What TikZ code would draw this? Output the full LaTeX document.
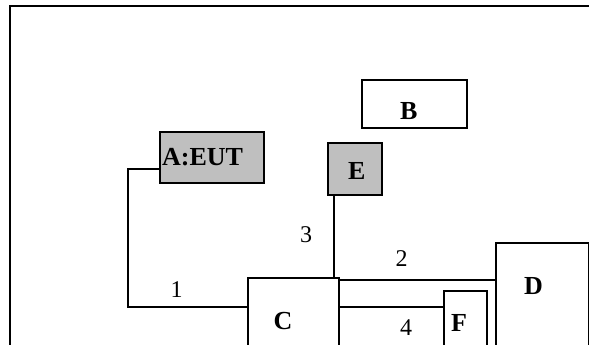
\documentclass[tikz,border=0pt]{standalone}
\usepackage{fontspec}
\setmainfont{Liberation Serif}
\usepackage{tikz}

\begin{document}
\begin{tikzpicture}[x=1pt,y=-1pt,
	box/.style={draw=black,line width=1.6pt,inner sep=0pt,anchor=north west},
	grey/.style={fill=black!25},
	lbl/.style={font=\fontsize{26}{30}\selectfont\bfseries,inner sep=0pt},
	num/.style={font=\fontsize{24}{28}\selectfont,inner sep=0pt},
	wire/.style={black,line width=1.6pt}]
	\useasboundingbox (0,0) rectangle (589,345);
	\clip (0,0) rectangle (589,345);
	% outer frame
	\draw[black,line width=2.6pt] (10,6) rectangle (620,380);
	% units
	\node[box,grey,minimum width=104pt,minimum height=51pt] (A) at (159,131) {};
	\node[lbl,anchor=west] (At) at ([xshift=3pt]A.west) {A:EUT};
	\node[box,minimum width=105pt,minimum height=48pt] (B) at (361,79) {};
	\node[lbl] (Bt) at ([xshift=-5.5pt,yshift=-7pt]B.center) {B};
	\node[box,grey,minimum width=54pt,minimum height=52pt] (E) at (327,142) {};
	\node[lbl] (Et) at ([xshift=2pt,yshift=-2pt]E.center) {E};
	\node[box,minimum width=91pt,minimum height=130pt] (C) at (247,277) {};
	\node[lbl] (Ct) at ([xshift=36pt,yshift=-44pt]C.north west) {C};
	\node[box,minimum width=93pt,minimum height=160pt] (D) at (495,242) {};
	\node[lbl] (Dt) at ([xshift=38.5pt,yshift=-44.5pt]D.north west) {D};
	\node[box,minimum width=43pt,minimum height=110pt] (F) at (443,290) {};
	\node[lbl] (Ft) at ([xshift=16pt,yshift=-32.5pt]F.north west) {F};
	% cables
	\draw[wire] ([yshift=-11.5pt]A.west) -- ++(-31,0) |- ([yshift=-30pt]C.north west);
	\draw[wire] ([xshift=7pt]E.south west) -- ([xshift=7pt]E.south west |- C.north);
	\draw[wire] ([yshift=-3pt]C.north east) -- ([yshift=-3pt]C.north east -| D.west);
	\draw[wire] ([yshift=-30pt]C.north east) -- ([yshift=-30pt]C.north east -| F.west);
	\node[num] (n1) at (176.5,289.5) {1};
	\node[num] (n2) at (401.5,258.5) {2};
	\node[num] (n3) at (306,234.5) {3};
	\node[num] (n4) at (406,328) {4};
\end{tikzpicture}
\end{document}
